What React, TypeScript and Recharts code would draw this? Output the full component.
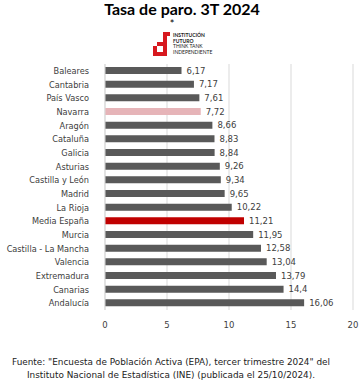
import React from 'react';
import { BarChart, Bar, XAxis, YAxis, CartesianGrid, Cell, LabelList } from 'recharts';

const categories = ['Baleares', 'Cantabria', 'País Vasco', 'Navarra', 'Aragón', 'Cataluña', 'Galicia', 'Asturias', 'Castilla y León', 'Madrid', 'La Rioja', 'Media España', 'Murcia', 'Castilla - La Mancha', 'Valencia', 'Extremadura', 'Canarias', 'Andalucía'];
const values = [6.17, 7.17, 7.61, 7.72, 8.66, 8.83, 8.84, 9.26, 9.34, 9.65, 10.22, 11.21, 11.95, 12.58, 13.04, 13.79, 14.4, 16.06];
const xTicks = [0, 5, 10, 15, 20];
const highlightNavarra = 'Navarra';
const highlightMedia = 'Media España';

const data = categories.map((name, i) => ({ name, value: values[i] }));

const FONT = 'Lato, "Open Sans", sans-serif';
const TFONT = '"DejaVu Sans", sans-serif';

const colorFor = (name: string) =>
  name === highlightMedia ? '#c00000' : name === highlightNavarra ? '#e6b4b8' : '#595959';

const CatTick = (props: any) => {
  const { x, y, payload } = props;
  return (
    <text x={x - 8} y={y} dy={3} textAnchor="end" fontSize={8.2} fill="#404040" fontFamily={TFONT}>
      {payload.value}
    </text>
  );
};

export default function App() {
  return (
    <div style={{ position: 'absolute', left: 0, top: 0, width: 360, height: 389, background: '#fff', fontFamily: FONT }}>
      <div style={{ position: 'absolute', left: 0, top: 1, width: 364, textAlign: 'center', fontWeight: 700, fontSize: 16, lineHeight: '16px', color: '#000' }}>
        Tasa de paro. 3T 2024
      </div>
      <div style={{ position: 'absolute', left: 0, top: 18, width: 344, textAlign: 'center', fontSize: 11, lineHeight: '11px', color: '#000' }}>*</div>
      <svg style={{ position: 'absolute', left: 150, top: 30 }} width={75} height={28}>
        <rect x={13} y={2} width={4} height={24} fill="#d7191f" />
        <rect x={7} y={12} width={10} height={4} fill="#d7191f" />
        <rect x={3} y={22} width={14} height={4} fill="#d7191f" />
        <rect x={3} y={16} width={4} height={10} fill="#d7191f" />
        <rect x={17} y={2} width={3} height={4} fill="#d7191f" />
        <text x={23} y={7} fontSize={5} fontWeight={700} fill="#222" fontFamily={FONT}>INSTITUCIÓN</text>
        <text x={23} y={12.5} fontSize={5} fontWeight={700} fill="#222" fontFamily={FONT}>FUTURO</text>
        <text x={23} y={18} fontSize={5} fill="#222" fontFamily={FONT}>THINK TANK</text>
        <text x={23} y={23.5} fontSize={5} fill="#222" fontFamily={FONT}>INDEPENDIENTE</text>
      </svg>
      <BarChart
        width={360}
        height={389}
        data={data}
        layout="vertical"
        margin={{ top: 64, right: 7, bottom: 49, left: 0 }}
        barSize={7}
      >
        <CartesianGrid horizontal={false} stroke="#d9d9d9" />
        <XAxis
          type="number"
          domain={[0, 20]}
          ticks={xTicks}
          axisLine={false}
          tickLine={false}
          height={30}
          tick={{ fontSize: 8.5, fill: '#404040', fontFamily: TFONT }}
          tickMargin={6}
        />
        <YAxis
          type="category"
          dataKey="name"
          width={105}
          axisLine={{ stroke: '#d9d9d9' }}
          tickLine={false}
          interval={0}
          tick={<CatTick />}
        />
        <Bar dataKey="value" isAnimationActive={false}>
          {data.map((d) => (
            <Cell key={d.name} fill={colorFor(d.name)} />
          ))}
          <LabelList
            dataKey="value"
            position="right"
            offset={5}
            formatter={(v: number) => String(v).replace('.', ',')}
            style={{ fontSize: 8.5, fill: '#404040', fontFamily: TFONT }}
          />
        </Bar>
      </BarChart>
      <div style={{ position: 'absolute', left: 0, top: 356, width: 342, textAlign: 'center', fontSize: 8.9, lineHeight: '12.5px', color: '#222', fontFamily: TFONT }}>
        Fuente: "Encuesta de Población Activa (EPA), tercer trimestre 2024" del
        <br />
        Instituto Nacional de Estadística (INE) (publicada el 25/10/2024).
      </div>
    </div>
  );
}
